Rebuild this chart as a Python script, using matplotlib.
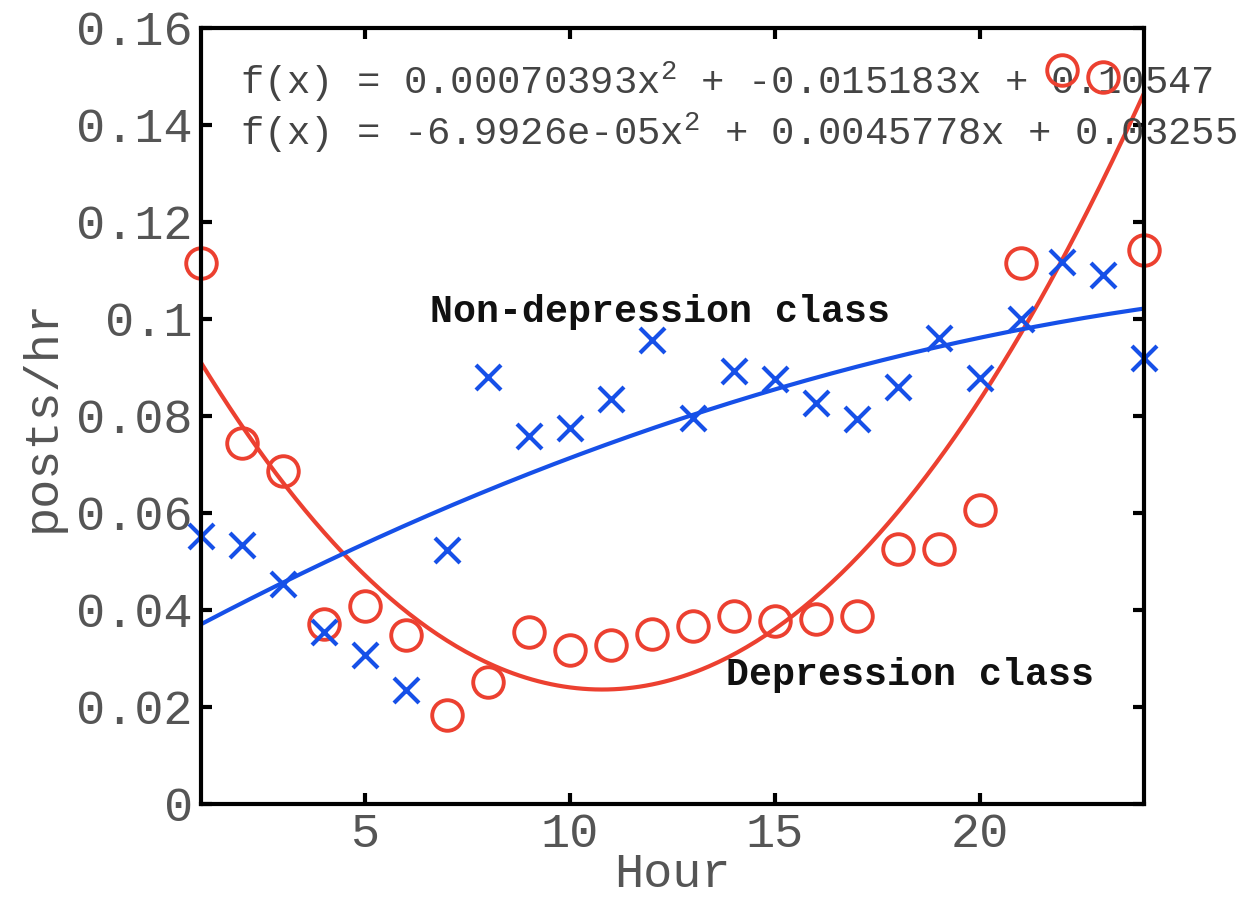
import numpy as np
import matplotlib
matplotlib.use("Agg")
import matplotlib.pyplot as plt

hours = list(range(1, 25))
depression = [0.1115, 0.0744, 0.0687, 0.0371, 0.0408, 0.0348, 0.0184, 0.0252,
              0.0355, 0.0318, 0.0328, 0.0351, 0.0367, 0.0388, 0.0377, 0.0381,
              0.0388, 0.0526, 0.0526, 0.0606, 0.1115, 0.1513, 0.1499, 0.1142]
non_depression = [0.0553, 0.0534, 0.0454, 0.0355, 0.0307, 0.0235, 0.0524, 0.0880,
                  0.0759, 0.0775, 0.0835, 0.0957, 0.0796, 0.0893, 0.0876, 0.0827,
                  0.0794, 0.0860, 0.0961, 0.0878, 0.1000, 0.1118, 0.1091, 0.0920]
dep_coef = [0.00070393, -0.015183, 0.10547]
non_coef = [-6.9926e-05, 0.0045778, 0.03255]
yticks = [0, 0.02, 0.04, 0.06, 0.08, 0.1, 0.12, 0.14, 0.16]
ytick_labels = ["0", "0.02", "0.04", "0.06", "0.08", "0.1", "0.12", "0.14", "0.16"]
xticks = [5, 10, 15, 20]
xtick_labels = ["5", "10", "15", "20"]

RED = "#EC4030"
BLUE = "#1650E8"
MONO = "Liberation Mono"

plt.rcParams["mathtext.default"] = "regular"
plt.rcParams["font.family"] = [MONO, "DejaVu Sans Mono"]

fig = plt.figure(figsize=(12.44, 8.99), dpi=100)
ax = fig.add_axes([0.1616, 0.1057, 0.758, 0.8632])

xs = np.linspace(1, 24, 300)
ax.plot(xs, np.polyval(dep_coef, xs), color=RED, lw=3, zorder=2)
ax.plot(xs, np.polyval(non_coef, xs), color=BLUE, lw=3, zorder=2)

ax.plot(hours, depression, linestyle="none", marker="o", markersize=22,
        markerfacecolor="none", markeredgecolor=RED, markeredgewidth=2.8,
        clip_on=False, zorder=4)
ax.plot(hours, non_depression, linestyle="none", marker="x", markersize=18,
        markeredgecolor=BLUE, markeredgewidth=3, clip_on=False, zorder=4)

ax.set_xlim(1, 24)
ax.set_ylim(0, 0.16)
ax.set_xticks(xticks)
ax.set_xticklabels(xtick_labels)
ax.set_yticks(yticks)
ax.set_yticklabels(ytick_labels)
ax.tick_params(direction="in", length=8, width=3, top=True, right=True,
               labelsize=35, labelcolor="#555555", pad=6)
for s in ax.spines.values():
    s.set_linewidth(3)
    s.set_zorder(5)

ax.set_xlabel("Hour", fontsize=35, color="#555555", labelpad=-4)
ax.set_ylabel("posts/hr", fontsize=35, color="#555555", labelpad=8)

ax.text(1.95, 0.1489, "f(x) = 0.00070393x$^{2}$ + -0.015183x + 0.10547",
        fontsize=28, color="#444444", va="center", ha="left", zorder=3)
ax.text(1.95, 0.1384, "f(x) = -6.9926e-05x$^{2}$ + 0.0045778x + 0.03255",
        fontsize=28, color="#444444", va="center", ha="left", zorder=3)

ax.text(6.59, 0.1014, "Non-depression class", fontsize=27.5, fontweight="bold",
        color="#111111", va="center", ha="left", zorder=3)
ax.text(13.8, 0.0266, "Depression class", fontsize=27.5, fontweight="bold",
        color="#111111", va="center", ha="left", zorder=3)

fig.savefig("out.png", dpi=100)
